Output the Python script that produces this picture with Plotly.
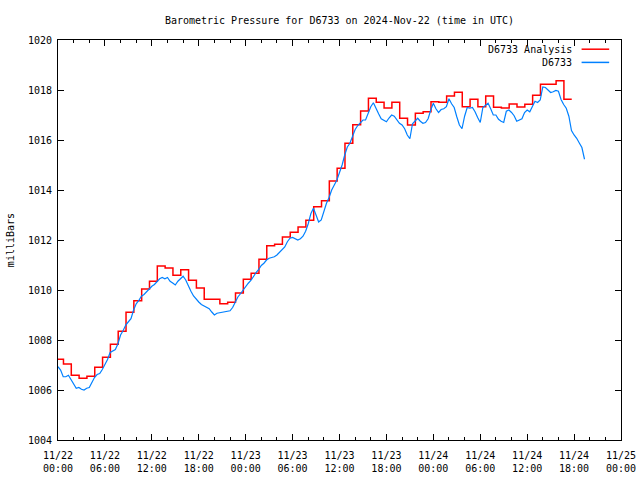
import pandas as pd
import plotly.graph_objects as go

# ---- data ----
obs_start = "2024-11-22 00:00"
obs_step = "20min"
obs_pressure = [
    1006.93, 1006.80, 1006.53, 1006.53, 1006.59, 1006.40, 1006.25, 1006.07, 1006.10, 1006.03,
    1006.00, 1006.07, 1006.10, 1006.29, 1006.50, 1006.62, 1006.66, 1006.82, 1007.00, 1007.22,
    1007.50, 1007.56, 1007.62, 1007.85, 1008.20, 1008.38, 1008.60, 1008.73, 1008.85, 1009.20,
    1009.45, 1009.58, 1009.75,
    1009.82, 1009.93, 1010.05, 1010.15, 1010.22, 1010.33, 1010.45, 1010.50, 1010.45, 1010.50,
    1010.35, 1010.28, 1010.20, 1010.35, 1010.45, 1010.55, 1010.40, 1010.16, 1009.95, 1009.76,
    1009.62, 1009.52, 1009.42, 1009.36, 1009.32, 1009.25, 1009.12, 1009.00, 1009.07, 1009.09,
    1009.11, 1009.13, 1009.17, 1009.17, 1009.30, 1009.50, 1009.72, 1009.85, 1010.00, 1010.10,
    1010.27, 1010.38,
    1010.55, 1010.70, 1010.82, 1010.98, 1011.07, 1011.20, 1011.27, 1011.30, 1011.33,
    1011.40, 1011.50, 1011.60, 1011.72, 1011.93, 1012.07, 1012.10, 1012.05, 1012.00,
    1012.05, 1012.15, 1012.35, 1012.65, 1013.05, 1013.27, 1013.00, 1012.72, 1012.80,
    1013.15, 1013.47, 1013.70, 1014.00, 1014.20, 1014.40, 1014.70, 1015.00, 1015.40,
    1015.72, 1015.87, 1016.12, 1016.42, 1016.58, 1016.68, 1016.80, 1016.80, 1017.05,
    1017.33, 1017.49, 1017.30, 1017.05, 1016.85, 1016.80, 1016.73, 1016.88, 1017.00,
    1016.95, 1016.82, 1016.67, 1016.60, 1016.45, 1016.20, 1016.05, 1016.65, 1016.75,
    1016.87, 1016.75, 1016.67, 1016.70, 1016.85, 1017.20, 1017.47, 1017.25, 1017.10,
    1017.22, 1017.25, 1017.33, 1017.65, 1017.45, 1017.30, 1016.93, 1016.60, 1016.45,
    1016.95, 1017.30, 1017.27, 1017.30, 1017.13, 1016.90, 1016.70, 1017.30, 1017.38,
    1017.47, 1017.25, 1017.00, 1017.00, 1016.83, 1016.75, 1016.70, 1017.15, 1017.20,
    1017.10, 1016.97, 1016.75, 1016.80, 1016.85, 1017.10, 1017.20, 1017.13, 1017.35,
    1017.55, 1017.50, 1017.60, 1018.12, 1018.10, 1018.00, 1017.90, 1017.93, 1017.98,
    1017.95, 1017.62, 1017.42, 1017.27, 1016.95, 1016.38, 1016.20, 1016.07, 1015.88,
    1015.70, 1015.23,
]

ana_start = "2024-11-21 23:42"
ana_step = "1h"
ana_pressure = [
    1007.23, 1007.04, 1006.59, 1006.47, 1006.55, 1006.91, 1007.31, 1007.83, 1008.35, 1009.11,
    1009.57, 1010.04, 1010.35, 1010.96, 1010.88, 1010.59, 1010.81, 1010.39, 1010.08, 1009.63,
    1009.63, 1009.45, 1009.51, 1009.88, 1010.43, 1010.67, 1011.23, 1011.77, 1011.83, 1012.12,
    1012.31, 1012.52, 1012.79, 1013.33, 1013.57, 1014.36, 1014.87, 1015.87, 1016.61, 1017.16,
    1017.67, 1017.51, 1017.28, 1017.51, 1016.87, 1016.60, 1017.07, 1017.13, 1017.53, 1017.51,
    1017.76, 1017.91, 1017.33, 1017.63, 1017.33, 1017.76, 1017.31, 1017.28, 1017.44, 1017.32,
    1017.43, 1017.79, 1018.23, 1018.23, 1018.37, 1017.63,
]

y_ticks = [1004, 1006, 1008, 1010, 1012, 1014, 1016, 1018, 1020]
x_range = ["2024-11-22 00:00", "2024-11-25 00:00"]

title_text = "Barometric Pressure for D6733 on 2024-Nov-22 (time in UTC)"
ana_name = "D6733 Analysis"
obs_name = "D6733"

RED = "#ff0000"
BLUE = "#0080ff"
FONT = "DejaVu Sans Mono"

obs_time = pd.date_range(obs_start, periods=len(obs_pressure), freq=obs_step)
# step plot: each analysis value is held for one step; close the last step
ana_time = pd.date_range(ana_start, periods=len(ana_pressure) + 1, freq=ana_step)
ana_y = ana_pressure + [ana_pressure[-1]]

fig = go.Figure()
fig.add_trace(go.Scatter(x=ana_time, y=ana_y, mode="lines", name=ana_name,
                         line=dict(color=RED, width=1.5, shape="hv"), showlegend=False))
fig.add_trace(go.Scatter(x=obs_time, y=obs_pressure, mode="lines", name=obs_name,
                         line=dict(color=BLUE, width=1.2), showlegend=False))

axis_common = dict(showline=True, linecolor="black", linewidth=1, mirror="allticks",
                   ticks="inside", ticklen=6, tickcolor="black", tickwidth=1,
                   showgrid=False, zeroline=False, automargin=False,
                   tickfont=dict(family=FONT, size=10, color="black"))

fig.update_xaxes(type="date", range=x_range, tick0="2024-11-22", dtick=6 * 3600 * 1000,
                 tickformat="%m/%d<br>%H:%M", ticklabelstandoff=6,
                 minor=dict(dtick=2 * 3600 * 1000, ticks="inside", ticklen=3,
                            tickcolor="black", showgrid=False),
                 **axis_common)
fig.update_yaxes(range=[1004, 1020], tickvals=y_ticks, ticklabelstandoff=3, **axis_common)

# legend drawn gnuplot-style: text right-aligned, line sample on the right
legend_rows = [(ana_name, RED, 0.977), (obs_name, BLUE, 0.944)]
annotations = []
shapes = []
for name, color, yy in legend_rows:
    annotations.append(dict(text=name, xref="paper", yref="paper", x=0.9165, y=yy,
                            xanchor="right", yanchor="middle", showarrow=False,
                            font=dict(family=FONT, size=10, color="black")))
    shapes.append(dict(type="line", xref="paper", yref="paper", x0=0.930, x1=0.979,
                       y0=yy, y1=yy, line=dict(color=color, width=1.5)))

annotations.append(dict(text="milliBars", xref="paper", yref="paper", x=-0.085, y=0.5,
                        textangle=-90, showarrow=False, xanchor="center", yanchor="middle",
                        font=dict(family=FONT, size=10, color="black")))

fig.update_layout(
    width=640, height=480,
    margin=dict(l=58, r=19, t=40, b=40, autoexpand=False),
    paper_bgcolor="white", plot_bgcolor="white",
    title=dict(text=title_text, x=0.5, xref="paper", xanchor="center",
               y=1 - 20 / 480, yref="container", yanchor="middle",
               font=dict(family=FONT, size=10, color="black")),
    font=dict(family=FONT, size=10, color="black"),
    annotations=annotations, shapes=shapes,
)

fig.write_html("out.html",
               config={"displayModeBar": False},
               post_script="document.body.style.margin='0';document.body.style.overflow='hidden';")
